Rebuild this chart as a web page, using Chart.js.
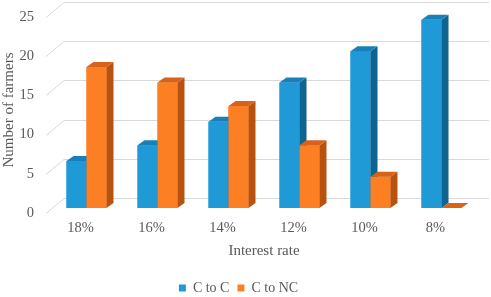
<!DOCTYPE html>
<html>
<head>
<meta charset="utf-8">
<script src="https://cdn.jsdelivr.net/npm/chart.js@4"></script>
<style>
  html, body { margin: 0; padding: 0; background: #fff; }
  #wrap { width: 491px; height: 297px; }
</style>
</head>
<body>
<div id="wrap"><canvas id="farmChart"></canvas></div>
<script>
// Data
const rates = ['18%', '16%', '14%', '12%', '10%', '8%'];
const cToC = [6, 8, 11, 16, 20, 24];
const cToNC = [18, 16, 13, 8, 4, 0];
const yTicks = [0, 5, 10, 15, 20, 25];

// face colours: front, side, top
const blueFaces = ['#1f9ad6', '#0f6391', '#1880b9'];
const orangeFaces = ['#fd7f24', '#b8520f', '#d8621a'];

const DEPTH_X = 7;
const DEPTH_Y = -5;

const ctx = document.getElementById('farmChart').getContext('2d');

// back wall gridlines with the little diagonal on the side wall
const wallPlugin = {
  id: 'wall',
  beforeDatasetsDraw(chart) {
    const { ctx, chartArea, scales } = chart;
    ctx.save();
    ctx.strokeStyle = '#d9d9d9';
    ctx.lineWidth = 1;
    yTicks.forEach(v => {
      const y = Math.round(scales.y.getPixelForValue(v));
      ctx.beginPath();
      ctx.moveTo(chartArea.left - 5, y + 5.5);
      ctx.lineTo(chartArea.left + 13, y - 9.5);
      ctx.lineTo(chart.width - 2, y - 9.5);
      ctx.stroke();
    });
    ctx.restore();
  }
};

// draws each bar as a box: front, side and top face
const boxPlugin = {
  id: 'boxes',
  afterDatasetsDraw(chart) {
    const { ctx } = chart;
    const faces = [blueFaces, orangeFaces];
    ctx.save();
    for (let i = 0; i < rates.length; i++) {
      for (let d = 0; d < 2; d++) {
        const bar = chart.getDatasetMeta(d).data[i];
        const { x, y, base, width } = bar.getProps(['x', 'y', 'base', 'width'], true);
        const l = x - width / 2, r = x + width / 2;
        const [front, side, top] = faces[d];
        if (base - y > 0.5) {
          ctx.fillStyle = front;
          ctx.fillRect(l, y, width, base - y);
          ctx.fillStyle = side;
          ctx.beginPath();
          ctx.moveTo(r, y);
          ctx.lineTo(r + DEPTH_X, y + DEPTH_Y);
          ctx.lineTo(r + DEPTH_X, base + DEPTH_Y);
          ctx.lineTo(r, base);
          ctx.closePath();
          ctx.fill();
        }
        ctx.fillStyle = top;
        ctx.beginPath();
        ctx.moveTo(l, y);
        ctx.lineTo(l + DEPTH_X, y + DEPTH_Y);
        ctx.lineTo(r + DEPTH_X, y + DEPTH_Y);
        ctx.lineTo(r, y);
        ctx.closePath();
        ctx.fill();
      }
    }
    ctx.restore();
  }
};

const farmChart = new Chart(ctx, {
  type: 'bar',
  data: {
    labels: rates,
    datasets: [
      { label: 'C to C', data: cToC, backgroundColor: blueFaces[0] },
      { label: 'C to NC', data: cToNC, backgroundColor: orangeFaces[0] }
    ]
  },
  options: {
    responsive: true,
    maintainAspectRatio: false,
    animation: false,
    layout: { padding: { top: 12, right: 14, left: 0, bottom: -8 } },
    datasets: { bar: { barPercentage: 1, categoryPercentage: 0.563 } },
    scales: {
      x: {
        grid: { display: false, drawTicks: false },
        border: { display: false },
        ticks: { color: '#595959', font: { family: 'Liberation Serif', size: 14.5 }, padding: 11, labelOffset: -6 },
        title: { display: true, text: 'Interest rate', color: '#595959', font: { family: 'Liberation Serif', size: 15 }, padding: { top: 3, bottom: 13 } },
        afterFit(scale) { scale.height = 65; }
      },
      y: {
        min: 0,
        max: 25,
        grid: { display: false, drawTicks: false },
        border: { display: false },
        ticks: { stepSize: 5, color: '#595959', font: { family: 'Liberation Serif', size: 14.5 }, padding: 17, labelOffset: 5 },
        title: { display: true, text: 'Number of farmers', color: '#595959', font: { family: 'Liberation Serif', size: 15 }, padding: 0 },
        afterFit(scale) {
          scale.width = 51;
          scale.paddingTop = 0;
          scale.paddingBottom = 0;
        }
      }
    },
    plugins: {
      legend: {
        position: 'bottom',
        labels: { color: '#595959', font: { family: 'Liberation Serif', size: 14 }, boxWidth: 7, boxHeight: 7, padding: 8 }
      },
      tooltip: { enabled: false }
    }
  },
  plugins: [wallPlugin, boxPlugin]
});
</script>
</body>
</html>
